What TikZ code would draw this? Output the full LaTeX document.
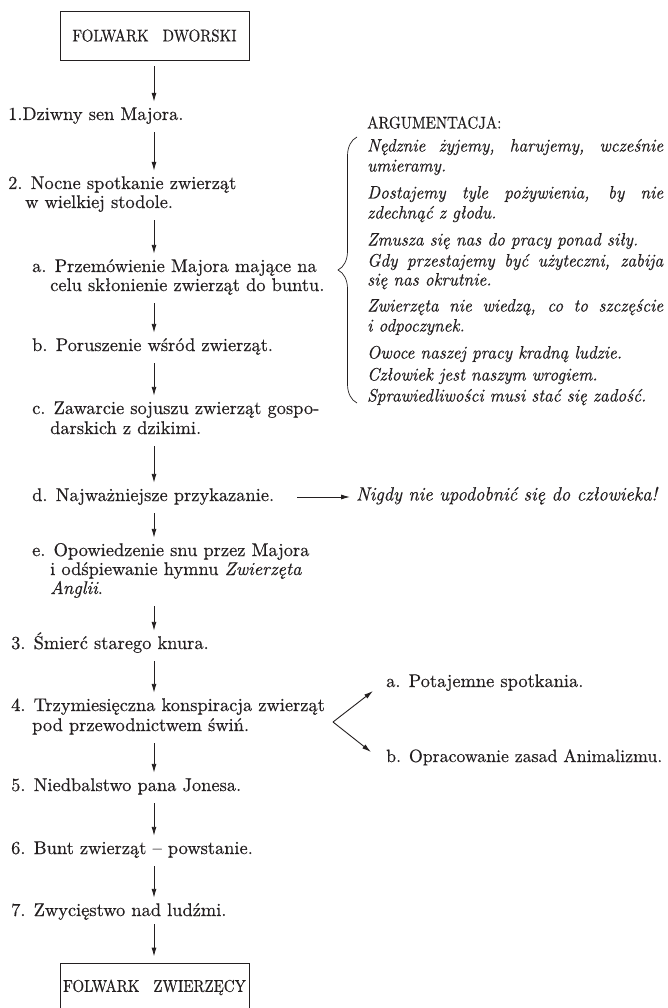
\documentclass[tikz,border=0pt]{standalone}
\usepackage{fontspec}
\setmainfont{lmroman10-regular.otf}[ItalicFont=lmroman10-italic.otf, FakeBold=0.45]
\newfontfamily\capsfont{lmroman10-regular.otf}[FakeStretch=0.88, FakeBold=0.45]
\newfontfamily\itfont{lmroman10-italic.otf}[FakeStretch=0.95, FakeBold=0.45]
\usetikzlibrary{arrows.meta,decorations.pathreplacing,calc}
\definecolor{ink}{RGB}{35,31,32}
\begin{document}
\begin{tikzpicture}[x=1pt,y=-1pt,
  txt/.style={anchor=west,inner sep=0pt,text height=12pt,text depth=4pt,font=\fontsize{18.4}{20}\selectfont,text=ink},
  itl/.style={anchor=west,inner sep=0pt,text height=11pt,text depth=4pt,font=\itfont\fontsize{18}{20}\selectfont,text=ink},
  capt/.style={anchor=west,inner sep=0pt,text height=11pt,text depth=4pt,font=\capsfont\fontsize{17}{18}\selectfont,text=ink},
  capbox/.style={draw=ink,line width=0.9pt,minimum width=189pt,minimum height=49pt,inner sep=0pt,font=\capsfont\fontsize{17}{18}\selectfont,text=ink},
  arr/.style={draw=ink,line width=0.9pt,-{Latex[length=9pt,width=5pt]},shorten <=8pt,shorten >=6pt},
]
\useasboundingbox (0,0) rectangle (667,1008);
\coordinate (ax) at (154,0);

% boxes
\node[capbox] (top) at (154.5,35.5) {FOLWARK\hspace{14pt}DWORSKI};
\node[capbox] (bot) at (154.5,987.5) {FOLWARK\hspace{14pt}ZWIERZĘCY};

% left column
\node[txt] (t1)  at (8,116) {1.Dziwny sen Majora.};
\node[txt] (t2a) at (8,185) {2. Nocne spotkanie zwierząt};
\node[txt] (t2b) at (25,204) {w wielkiej stodole.};
\node[txt] (ta1) at (32,268) {a. Przemówienie Majora mające na};
\node[txt] (ta2) at (50,287) {celu skłonienie zwierząt do buntu.};
\node[txt] (tb)  at (32,347) {b. Poruszenie wśród zwierząt.};
\node[txt] (tc1) at (32,410) {c. Zawarcie sojuszu zwierząt gospo-};
\node[txt] (tc2) at (50,430) {darskich z dzikimi.};
\node[txt] (td)  at (32,497) {d. Najważniejsze przykazanie.};
\node[txt] (te1) at (32,552) {e. Opowiedzenie snu przez Majora};
\node[txt] (te2) at (50,571) {i odśpiewanie hymnu \emph{Zwierzęta}};
\node[txt] (te3) at (50,590) {\emph{Anglii}.};
\node[txt] (t3)  at (11,645) {3. Śmierć starego knura.};
\node[txt] (t4a) at (11,707) {4. Trzymiesięczna konspiracja zwierząt};
\node[txt] (t4b) at (32,727) {pod przewodnictwem świń.};
\node[txt] (t5)  at (11,787) {5. Niedbalstwo pana Jonesa.};
\node[txt] (t6)  at (11,850) {6. Bunt zwierząt – powstanie.};
\node[txt] (t7)  at (11,912) {7. Zwycięstwo nad ludźmi.};

% right column
\node[capt] (arg) at (367,125) {ARGUMENTACJA:};
\node[itl] (r1)  at (367,148) {\makebox[296pt][s]{Nędznie żyjemy, harujemy, wcześnie}};
\node[itl] (r2)  at (367,168) {umieramy.};
\node[itl] (r3)  at (367,195) {\makebox[296pt][s]{Dostajemy tyle pożywienia, by nie}};
\node[itl] (r4)  at (367,215) {zdechnąć z głodu.};
\node[itl] (r5)  at (367,242) {Zmusza się nas do pracy ponad siły.};
\node[itl] (r6)  at (367,263) {\makebox[296pt][s]{Gdy przestajemy być użyteczni, zabija}};
\node[itl] (r7)  at (367,282) {się nas okrutnie.};
\node[itl] (r8)  at (367,308) {\makebox[296pt][s]{Zwierzęta nie wiedzą, co to szczęście}};
\node[itl] (r9)  at (367,328) {i odpoczynek.};
\node[itl] (r10) at (367,355) {Owoce naszej pracy kradną ludzie.};
\node[itl] (r11) at (367,377) {Człowiek jest naszym wrogiem.};
\node[itl] (r12) at (367,398) {Sprawiedliwości musi stać się zadość.};

\node[itl,font=\itfont\fontsize{19.2}{20}\selectfont] (nig) at (356,497) {Nigdy nie upodobnić się do człowieka!};

\node[txt] (pa) at (386,683) {a. Potajemne spotkania.};
\node[txt,font=\fontsize{17.8}{20}\selectfont] (pb) at (386,758) {b. Opracowanie zasad Animalizmu.};

% brace
\draw[ink,line width=0.7pt,decorate,decoration={brace,amplitude=19pt}] (357,403) -- (357,137);

% main arrows
\draw[arr,shorten <=6pt] (top.south -| ax) -- (t1.north -| ax);
\draw[arr] (t1.south -| ax) -- (t2a.north -| ax);
\draw[arr] (t2b.south -| ax) -- (ta1.north -| ax);
\draw[arr] (ta2.south -| ax) -- (tb.north -| ax);
\draw[arr] (tb.south -| ax) -- (tc1.north -| ax);
\draw[arr] (tc2.south -| ax) -- (td.north -| ax);
\draw[arr] (td.south -| ax) -- (te1.north -| ax);
\draw[arr] (te3.south -| ax) -- (t3.north -| ax);
\draw[arr] (t3.south -| ax) -- (t4a.north -| ax);
\draw[arr] (t4b.south -| ax) -- (t5.north -| ax);
\draw[arr] (t5.south -| ax) -- (t6.north -| ax);
\draw[arr] (t6.south -| ax) -- (t7.north -| ax);
\draw[arr,shorten <=4pt] (t7.south -| ax) -- (bot.north -| ax);

% side arrows
\draw[arr,shorten <=0pt,shorten >=0pt] ([xshift=23pt]td.east) -- ([xshift=-6pt]nig.west);
\coordinate (fork) at (333,722);
\draw[arr,shorten <=0pt,shorten >=0pt] (fork) -- ($(pa.west)+(-13,8)$);
\draw[arr,shorten <=0pt,shorten >=0pt] (fork) -- ($(pb.west)+(-15,-6)$);
\end{tikzpicture}
\end{document}
